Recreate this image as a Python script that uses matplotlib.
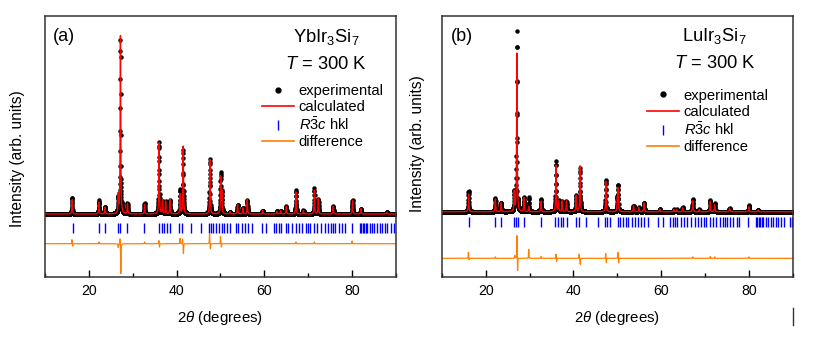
import matplotlib
matplotlib.use("Agg")
import matplotlib.pyplot as plt
from matplotlib.lines import Line2D
from matplotlib.ticker import MultipleLocator
import numpy as np

plt.rcParams['font.family'] = ['Liberation Sans', 'DejaVu Sans']
plt.rcParams['mathtext.fontset'] = 'custom'
plt.rcParams['mathtext.rm'] = 'Liberation Sans'
plt.rcParams['mathtext.it'] = 'Liberation Sans:italic'
plt.rcParams['mathtext.bf'] = 'Liberation Sans:bold'

# ---- data (2theta in degrees, intensity in arb. units) ----
# (a) YbIr3Si7
a_peak_pos = [16.2, 22.3, 23.7, 26.7, 27.2, 28.8, 32.7, 36.0, 36.8, 37.5, 38.5,
              40.8, 41.5, 47.6, 50.05, 50.3, 52.2, 53.9, 55.1, 56.1, 59.6, 62.9,
              63.7, 65.0, 67.2, 68.9, 71.4, 72.3, 75.7, 80.1, 82.0, 88.0]
a_peak_h = [8.0, 6.6, 3.9, 10.3, 100.0, 5.8, 5.2, 39.9, 7.1, 7.1, 8.0,
            10.9, 38.0, 30.5, 21.0, 12.0, 1.3, 5.2, 3.4, 8.0, 1.9, 1.5,
            1.9, 4.3, 12.4, 2.0, 13.3, 8.6, 4.3, 7.5, 3.0, 1.0]
a_diff_pos = [16.15, 16.3, 22.3, 26.7, 27.12, 27.28, 32.7, 35.95, 36.1, 40.8,
              41.35, 41.55, 47.5, 47.7, 50.0, 50.2, 67.2, 71.4, 80.0]
a_diff_amp = [2.5, -1.5, 1.0, -2.0, 3.7, -17.0, 1.0, 2.0, -2.0, 3.0,
              3.0, -6.0, 5.8, -3.0, 4.0, -2.0, 1.0, 1.0, 1.5]
a_hkl = [16.3, 22.4, 23.7, 26.7, 27.2, 28.8, 32.6, 36.0, 36.6, 37.2, 37.7, 38.5,
         40.6, 41.2, 43.2, 45.6, 47.4, 47.9, 48.4, 49.0, 49.6, 50.3, 50.8, 51.4,
         52.1, 53.5, 54.1, 54.9, 55.6, 56.3, 57.2, 59.4, 60.4, 62.1, 62.7, 63.3,
         63.9, 65.0, 65.5, 66.3, 67.1, 68.0, 68.6, 69.4, 70.0, 70.5, 71.3, 72.0,
         72.8, 73.9, 74.5, 75.1, 75.7, 76.2, 77.0, 77.7, 78.3, 80.0, 81.8, 82.1,
         82.4, 82.7, 83.1, 83.4, 84.0, 84.6, 85.1, 85.7, 86.3, 86.9, 87.4, 88.0,
         88.8, 89.5]

# (b) LuIr3Si7
b_peak_pos = [16.1, 22.2, 23.5, 26.5, 27.1, 28.7, 29.8, 32.6, 36.0, 36.6, 37.4,
              38.4, 40.6, 41.5, 47.4, 50.0, 50.2, 53.7, 54.9, 56.1, 59.7, 62.9,
              63.5, 64.9, 67.2, 68.7, 71.2, 72.2, 75.6, 80.0, 82.1]
b_peak_h = [10.0, 7.1, 5.0, 11.0, 89.0, 7.9, 3.0, 6.0, 26.0, 6.0, 6.0,
            6.0, 9.2, 25.7, 16.9, 7.0, 13.0, 3.4, 2.4, 5.0, 1.5, 1.3,
            1.3, 2.4, 6.2, 1.3, 5.8, 3.9, 1.9, 2.8, 1.0]
b_diff_pos = [16.05, 16.2, 22.2, 26.6, 27.1, 27.25, 29.8, 32.6, 36.0, 36.15,
              41.3, 41.55, 47.35, 47.5, 50.15, 50.3, 67.2, 71.2, 72.2, 80.0]
b_diff_amp = [3.7, -1.0, 0.8, 1.5, 13.2, -8.0, 5.0, 1.0, 2.5, -2.0,
              2.4, -3.7, 3.0, -2.5, 3.7, -2.8, 0.8, 1.0, 0.8, 0.8]
b_hkl = [16.1, 22.2, 23.5, 26.5, 26.9, 27.3, 28.7, 32.6, 35.9, 36.5, 37.1, 37.7,
         38.5, 40.6, 41.2, 42.9, 45.6, 47.3, 47.7, 48.3, 50.2, 50.7, 51.3, 51.9,
         52.4, 53.4, 54.0, 54.7, 55.5, 56.1, 57.0, 59.3, 60.4, 62.0, 62.6, 63.1,
         63.7, 64.6, 65.2, 66.0, 66.7, 67.7, 68.4, 69.0, 69.7, 70.3, 71.1, 71.9,
         72.5, 73.4, 74.0, 74.5, 75.1, 75.7, 76.4, 77.2, 77.8, 79.9, 81.6, 81.9,
         82.2, 82.5, 82.9, 83.3, 83.9, 84.4, 85.0, 85.6, 86.2, 86.7, 87.3, 87.9,
         89.4, 89.9]

two_theta = np.arange(10.0, 90.0, 0.02)


def profile(pos, amp, hw):
    # sum of narrow Lorentzian peaks on the measurement grid
    y = np.zeros_like(two_theta)
    for p, a in zip(pos, amp):
        y += a * hw**2 / ((two_theta - p)**2 + hw**2)
    return y


def panel(ax, pos, h, dpos, damp, hkl, hkl_y, diff_y, ylim, label, name,
          leg_xy, name_xy, label_x):
    calc = profile(pos, h, 0.07)
    diff = profile(dpos, damp, 0.04)
    exp = calc + diff
    ax.plot(two_theta, exp, 'o', color='black', ms=3.2, mew=0, zorder=2)
    ax.plot(two_theta, calc, '-', color='#ff0000', lw=1.0, zorder=3)
    ax.plot(hkl, [hkl_y] * len(hkl), '|', color='#0000ff', ms=7, mew=1.0)
    ax.plot(two_theta, diff + diff_y, '-', color='#ff8000', lw=0.9)

    ax.set_xlim(10, 90)
    ax.set_ylim(*ylim)
    ax.set_yticks([])
    ax.xaxis.set_major_locator(MultipleLocator(20))
    ax.xaxis.set_minor_locator(MultipleLocator(10))
    ax.tick_params(axis='x', which='major', direction='in', length=5,
                   width=1, labelsize=10.2, pad=5)
    ax.tick_params(axis='x', which='minor', direction='in', length=3, width=1)
    for s in ax.spines.values():
        s.set_linewidth(1.1)
        s.set_color('#333333')
    ax.set_xlabel(r'2$\theta$ (degrees)', fontsize=10.8, labelpad=8)
    ax.set_ylabel('Intensity (arb. units)', fontsize=11.2)

    ax.text(label_x, 0.92, label, transform=ax.transAxes, fontsize=13,
            ha='left', va='center')
    ax.text(name_xy[0], name_xy[1], name, transform=ax.transAxes,
            fontsize=13.2, ha='center', va='center')
    ax.text(name_xy[0], name_xy[1] - 0.105, r'$T$ = 300 K',
            transform=ax.transAxes, fontsize=13.2, ha='center', va='center')

    handles = [
        Line2D([], [], ls='none', marker='o', color='black', ms=3.5),
        Line2D([], [], color='#ff0000', lw=1.2),
        Line2D([], [], ls='none', marker='|', color='#0000ff', ms=7, mew=1.0),
        Line2D([], [], color='#ff8000', lw=1.2),
    ]
    labels = ['experimental', 'calculated', r'$R\bar{3}c$ hkl', 'difference']
    ax.legend(handles, labels, loc='upper left', bbox_to_anchor=leg_xy,
              frameon=False, fontsize=10.6, borderpad=0, borderaxespad=0,
              handlelength=2.2, handletextpad=0.3, labelspacing=0.15)


fig = plt.figure(figsize=(8.3, 3.37), dpi=100)
ax_a = fig.add_axes([0.0542, 0.178, 0.4229, 0.7745])
ax_b = fig.add_axes([0.5324, 0.178, 0.4227, 0.7745])

panel(ax_a, a_peak_pos, a_peak_h, a_diff_pos, a_diff_amp, a_hkl,
      -7.7, -16.7, (-35.4, 111.2), '(a)', r'YbIr$_3$Si$_7$',
      (0.618, 0.74), (0.80, 0.918), 0.023)
panel(ax_b, b_peak_pos, b_peak_h, b_diff_pos, b_diff_amp, b_hkl,
      -5.6, -26.2, (-36.7, 110.0), '(b)', r'LuIr$_3$Si$_7$',
      (0.584, 0.722), (0.777, 0.922), 0.026)

ax_a.yaxis.set_label_coords(-0.056, 0.455)
ax_b.yaxis.set_label_coords(-0.048, 0.51)

# stray mark at the lower right of the original figure
fig.add_artist(Line2D([793 / 830, 793 / 830], [1 - 308 / 337, 1 - 325 / 337],
                      color='#333333', lw=1.0))

fig.savefig('out.png', dpi=100)
